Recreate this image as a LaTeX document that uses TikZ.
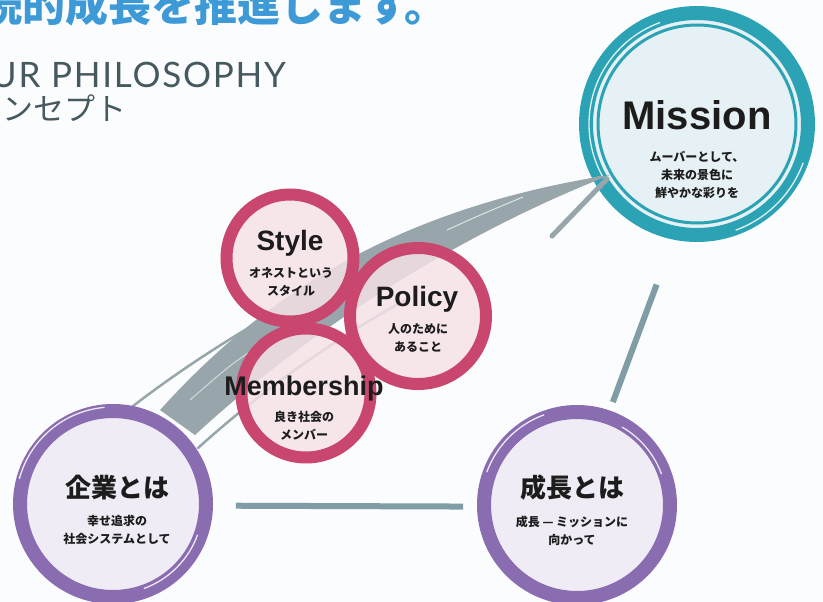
\documentclass[tikz,border=0pt]{standalone}
\usepackage{fontspec}
\setmainfont{Liberation Sans}
\newfontfamily\jp{Noto Sans CJK JP}
\newfontfamily\latofont[LetterSpace=5]{Lato}
\definecolor{cBg}{HTML}{FBFCFD}
\definecolor{cTeal}{HTML}{2BA3B4}
\definecolor{cTealL}{HTML}{E6F1F5}
\definecolor{cPink}{HTML}{C9476F}
\definecolor{cPinkL}{HTML}{F6E2E7}
\definecolor{cPurple}{HTML}{8A6CB1}
\definecolor{cPurpleL}{HTML}{EFECF5}
\definecolor{cSw}{HTML}{98A6AC}
\definecolor{cLine}{HTML}{809CA6}
\definecolor{cInk}{HTML}{1C1C1C}
\definecolor{cBlue}{HTML}{3D9AD6}
\definecolor{cGrayT}{HTML}{46595F}
\usetikzlibrary{calc}
\tikzset{
  ringbase/.style={circle, inner sep=0pt, outer sep=0pt},
  tealring/.style={ringbase, draw=cTeal, line width=14pt, fill=cTealL},
  purplering/.style={ringbase, draw=cPurple, line width=14pt, fill=cPurpleL},
  pinkring/.style={ringbase, draw=cPink, line width=12pt, fill=cPinkL, fill opacity=0.82},
  enhead/.style={inner sep=0pt, anchor=base, text=cInk, font=\bfseries\fontsize{28}{30}\selectfont},
  jphead/.style={inner sep=0pt, text=cInk, font=\jp\bfseries\fontsize{26}{28}\selectfont},
  jpsub/.style={inner sep=0pt, align=center, text=cInk, font=\jp\bfseries\fontsize{12}{18}\selectfont},
  streak/.style={draw=white, line width=1.3pt, opacity=0.85},
  connector/.style={draw=cLine, line width=6pt},
  swoosh/.style={fill=cSw},
  swline/.style={draw=cSw, line width=2.5pt, line cap=round},
}
\begin{document}
\begin{tikzpicture}[x=1pt,y=-1pt]
\useasboundingbox (0,0) rectangle (823,602);
\clip (0,0) rectangle (823,602);
\fill[cBg] (0,0) rectangle (823,602);

% header texts
\node[anchor=base west, inner sep=0pt, text=cBlue, font=\jp\bfseries\fontsize{43}{45}\selectfont] (title) at (-21,22) {続的成長を推進します。};
\node[anchor=base east, inner sep=0pt, text=cGrayT, font=\latofont\fontsize{35}{40}\selectfont] (philo) at (286,88) {OUR PHILOSOPHY};
\node[anchor=base east, inner sep=0pt, text=cGrayT, font=\jp\fontsize{31}{33}\selectfont] (concept) at (127,121) {コンセプト};

% mission circle
\node[tealring, minimum size=222pt] (mission) at (697,124) {};
\draw[cTeal, line width=3pt] (mission.center) circle[radius=99];
\draw[streak] ([shift={(150:108)}]mission.center) arc[start angle=150, end angle=250, radius=108];
\draw[streak] ([shift={(20:113)}]mission.center) arc[start angle=20, end angle=70, radius=113];

% swoosh
\fill[swoosh] (160,410) .. controls (255,305) and (385,210) .. (610,175) .. controls (470,230) and (320,320) .. (195,435) -- cycle;
\draw[swline] (128,410) .. controls (230,330) and (400,232) .. (600,177);
\draw[swline] (198,448) .. controls (260,392) and (330,342) .. (405,300);
\draw[swline, line width=5pt] (552,236) -- (607,179);
\draw[cBg, line width=1pt, opacity=0.7] (447,230) .. controls (480,215) .. (523,197);
\draw[cBg, line width=1pt, opacity=0.6] (190,400) .. controls (230,365) .. (270,338);

% bottom circles
\node[purplering, minimum size=186pt] (kigyo) at (113,504) {};
\draw[streak] ([shift={(195:97)}]kigyo.center) arc[start angle=195, end angle=265, radius=97];
\draw[streak] ([shift={(20:90)}]kigyo.center) arc[start angle=20, end angle=70, radius=90];
\node[purplering, minimum size=186pt] (seicho) at (577,505) {};
\draw[streak] ([shift={(200:96)}]seicho.center) arc[start angle=200, end angle=250, radius=96];
\draw[streak] ([shift={(300:90)}]seicho.center) arc[start angle=300, end angle=340, radius=90];

% connectors
\draw[connector, shorten <=30pt, shorten >=21pt] (kigyo.-1) -- (seicho.181);
\draw[connector, shorten <=55pt, shorten >=16pt] (mission.259) -- (seicho.71);

% pink circles
\node[pinkring, minimum size=127pt] (style) at (290,258) {};
\node[pinkring, minimum size=136pt] (policy) at (418,316) {};
\node[pinkring, minimum size=129pt] (member) at (306,393) {};

% texts
\node[enhead, font=\bfseries\fontsize{40}{42}\selectfont] (mission-h) at (697,130) {Mission};
\node[jpsub] (mission-s) at (697,175) {ムーバーとして、\\未来の景色に\\鮮やかな彩りを};
\node[enhead] (style-h) at (290,250) {Style};
\node[jpsub] (style-s) at (291,282.5) {オネストという\\スタイル};
\node[enhead] (policy-h) at (417,306) {Policy};
\node[jpsub] (policy-s) at (418,337.5) {人のために\\あること};
\node[enhead, font=\bfseries\fontsize{27}{29}\selectfont] (member-h) at (304,395) {Membership};
\node[jpsub] (member-s) at (304,426) {良き社会の\\メンバー};
\node[jphead] (kigyo-h) at (117,488) {企業とは};
\node[jpsub] (kigyo-s) at (117,530) {幸せ追求の\\社会システムとして};
\node[jphead] (seicho-h) at (572,488) {成長とは};
\node[jpsub] (seicho-s) at (572,531) {成長 — ミッションに\\向かって};
\end{tikzpicture}
\end{document}
